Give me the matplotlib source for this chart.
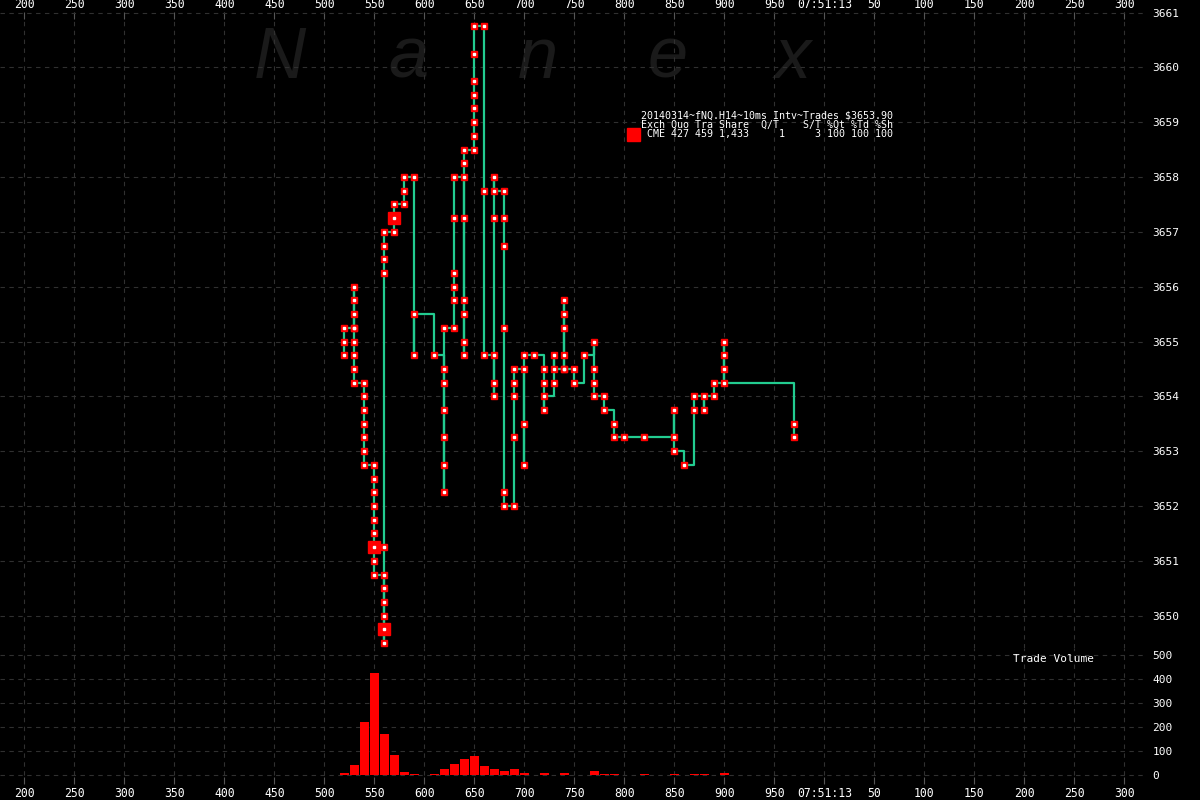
import matplotlib
matplotlib.use('Agg')
import matplotlib.pyplot as plt
from matplotlib.patches import Rectangle

plt.rcParams['font.family'] = 'DejaVu Sans Mono'

# 10ms buckets (ms past 07:51:12) and the trade prices printed in each, in order
bucket_ms = [520, 530, 540, 550, 560, 570, 580, 590, 610, 620, 630, 640, 650, 660,
             670, 680, 690, 700, 710, 720, 730, 740, 750, 760, 770, 780, 790, 800,
             820, 850, 860, 870, 880, 890, 900, 970]
bucket_px = [
    [3654.75, 3655.0, 3655.25],
    [3655.25, 3656.0, 3655.75, 3655.5, 3655.25, 3655.0, 3654.75, 3654.5, 3654.25],
    [3654.25, 3654.0, 3653.75, 3653.5, 3653.25, 3653.0, 3652.75],
    [3652.75, 3652.5, 3652.25, 3652.0, 3651.75, 3651.5, 3651.25, 3651.0, 3650.75],
    [3650.75, 3650.5, 3650.25, 3650.0, 3649.75, 3649.5, 3651.25, 3656.25, 3656.5,
     3656.75, 3657.0],
    [3657.0, 3657.25, 3657.5],
    [3657.5, 3657.75, 3658.0],
    [3658.0, 3654.75, 3655.5],
    [3654.75],
    [3654.5, 3654.25, 3653.75, 3653.25, 3652.75, 3652.25, 3655.25],
    [3655.25, 3655.75, 3656.0, 3656.25, 3657.25, 3658.0],
    [3658.0, 3657.25, 3655.75, 3655.5, 3655.0, 3654.75, 3658.25, 3658.5],
    [3658.5, 3658.75, 3659.0, 3659.25, 3659.5, 3659.75, 3660.25, 3660.75],
    [3660.75, 3657.75, 3654.75],
    [3654.75, 3654.25, 3654.0, 3657.25, 3658.0, 3657.75],
    [3657.75, 3657.25, 3656.75, 3655.25, 3652.25, 3652.0],
    [3652.0, 3653.25, 3654.0, 3654.25, 3654.5],
    [3654.5, 3652.75, 3653.5, 3654.75],
    [3654.75],
    [3654.5, 3654.25, 3653.75, 3654.0],
    [3654.75, 3654.25, 3654.5],
    [3654.5, 3655.75, 3655.5, 3655.25, 3654.75, 3654.5],
    [3654.5, 3654.25],
    [3654.75],
    [3655.0, 3654.5, 3654.25, 3654.0],
    [3654.0, 3653.75],
    [3653.5, 3653.25],
    [3653.25],
    [3653.25],
    [3653.25, 3653.75, 3653.0],
    [3652.75],
    [3653.75, 3654.0],
    [3653.75, 3654.0],
    [3654.0, 3654.25],
    [3654.5, 3654.75, 3655.0, 3654.25],
    [3653.5, 3653.25],
]

# the few larger trade markers
big_ms = [550, 560, 570]
big_px = [3651.25, 3649.75, 3657.25]

# trade volume per 10ms bucket
vol_ms = [520, 530, 540, 550, 560, 570, 580, 590, 610, 620, 630, 640, 650, 660, 670,
          680, 690, 700, 710, 720, 730, 740, 750, 760, 770, 780, 790, 800, 820, 850,
          860, 870, 880, 890, 900, 970]
vol_qty = [10, 43, 222, 426, 173, 86, 15, 7, 7, 27, 48, 69, 81, 39, 27, 19, 27, 11, 3,
           11, 3, 11, 3, 3, 19, 6, 6, 2, 5, 5, 2, 5, 5, 2, 9, 2]

xticks = list(range(200, 1301, 50))
xlabels = [str(t) if t < 1000 else ('07:51:13' if t == 1000 else str(t - 1000)) for t in xticks]
price_ticks = list(range(3650, 3662))
vol_ticks = [0, 100, 200, 300, 400, 500]

legend_lines = ['20140314~fNQ.H14~10ms Intv~Trades $3653.90',
                'Exch Quo Tra Share  Q/T    S/T %Qt %Td %Sh',
                ' CME 427 459 1,433     1     3 100 100 100']

trade_ms = []
trade_px = []
for m, pxs in zip(bucket_ms, bucket_px):
    for p in pxs:
        trade_ms.append(m)
        trade_px.append(p)

fig = plt.figure(figsize=(12, 8), dpi=100, facecolor='black')
W, H = 1200., 800.
ax = fig.add_axes([0, 1 - 648 / H, 1147 / W, 636 / H])
vax = fig.add_axes([0, 1 - 784 / H, 1147 / W, 136 / H], sharex=ax)

grid_kw = dict(color='#303030', linewidth=0.8, linestyle=(0, (4, 4)))
for a in (ax, vax):
    a.set_facecolor('black')
    for s in a.spines.values():
        s.set_visible(False)
    a.grid(True, **grid_kw)
    a.set_axisbelow(True)

# price panel
ax.plot(trade_ms, trade_px, drawstyle='steps-post', color='#22cc90', linewidth=1.6, zorder=2)
ax.plot(trade_ms, trade_px, 's', color='red', markersize=5, zorder=3)
ax.plot(big_ms, big_px, 's', color='red', markersize=9, zorder=3)
ax.plot(trade_ms, trade_px, 's', color='white', markersize=1.5, zorder=4)

ax.set_xlim(175.7, 1322.7)
ax.set_ylim(3649.41, 3661.01)
ax.set_xticks(xticks)
ax.set_xticklabels(xlabels)
ax.set_yticks(price_ticks)
ax.xaxis.tick_top()
ax.yaxis.tick_right()
ax.tick_params(axis='x', direction='in', length=5, color='#555555', labelcolor='white',
               labelsize=8.3, pad=1)
ax.tick_params(axis='y', length=0, pad=4, labelcolor='white', labelsize=8)

# volume panel
vax.bar(vol_ms, vol_qty, width=9, color='red', linewidth=0, zorder=2)
vax.set_ylim(-36, 528)
vax.set_yticks(vol_ticks)
vax.xaxis.tick_bottom()
vax.yaxis.tick_right()
vax.tick_params(axis='x', direction='in', length=5, color='#555555', labelcolor='white',
                labelsize=8.3, pad=2)
vax.tick_params(axis='y', length=0, pad=4, labelcolor='white', labelsize=8)

# watermark
for letter, lx in zip('Nanex', [280, 408, 538, 668, 793]):
    ax.text(lx / W, 1 - 78 / H, letter, transform=fig.transFigure, ha='center',
            va='baseline', fontsize=52, style='italic', family='Liberation Sans',
            color='#1a1a1a', zorder=0)

# legend block
for i, line in enumerate(legend_lines):
    fig.text(641 / W, 1 - (115 + 9.7 * i) / H, line, color='white', fontsize=7.2,
             va='center', ha='left')
fig.add_artist(Rectangle((627 / W, 1 - 141 / H), 13 / W, 13 / H,
                         transform=fig.transFigure, color='red'))

fig.text(1013 / W, 1 - 659 / H, 'Trade Volume', color='white', fontsize=8, va='center')

plt.savefig('out.png', dpi=100, facecolor='black')
